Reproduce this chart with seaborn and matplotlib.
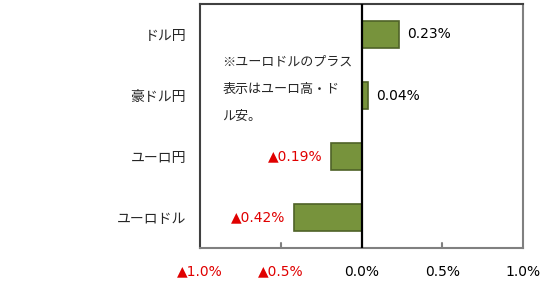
import matplotlib
matplotlib.use("Agg")
import matplotlib.pyplot as plt
import seaborn as sns
import pandas as pd

categories = ["ドル円", "豪ドル円", "ユーロ円", "ユーロドル"]
values = [0.23, 0.04, -0.19, -0.42]
value_labels = ["0.23%", "0.04%", "▲0.19%", "▲0.42%"]
xticks = [-1.0, -0.5, 0.0, 0.5, 1.0]
xtick_labels = ["▲1.0%", "▲0.5%", "0.0%", "0.5%", "1.0%"]
note = "※ユーロドルのプラス\n表示はユーロ高・ド\nル安。"

sns.set_style("white")
plt.rcParams['font.family'] = ['DejaVu Sans', 'Noto Sans CJK JP']
JP = ['Noto Sans CJK JP', 'DejaVu Sans']

df = pd.DataFrame({"cat": categories, "val": values})

fig = plt.figure(figsize=(5.5, 2.83), dpi=100)
ax = fig.add_axes([200/550, 1-248/283, 323/550, 244/283])
sns.barplot(data=df, x="val", y="cat", orient="h", color="#77933C",
            edgecolor="#4F6228", linewidth=1.2, width=0.43, saturation=1, ax=ax)

ax.set_xlim(-1.0, 1.0)
ax.set_ylim(3.5, -0.5)
ax.set_xlabel("")
ax.set_ylabel("")
ax.axvline(0, color="black", lw=1.6, zorder=3)

for yb in [0.5, 1.5, 2.5]:
    ax.plot([0, 0.012], [yb, yb], color="black", lw=1.6, zorder=3, solid_capstyle="butt")

ax.set_xticks(xticks)
ax.set_xticklabels(xtick_labels, fontsize=10)
for t, v in zip(ax.get_xticklabels(), xticks):
    t.set_color("#E00000" if v < 0 else "black")
ax.tick_params(axis="x", length=0, pad=12)
for xv in [-0.5, 0.5]:
    ax.plot([xv, xv], [3.5, 3.42], color="#808080", lw=1.5, zorder=3)

ax.set_yticks(range(len(categories)))
ax.set_yticklabels(categories, fontsize=10, family=JP)
ax.tick_params(axis="y", length=0, pad=10)

for s in ["left", "top"]:
    ax.spines[s].set_color("#404040")
    ax.spines[s].set_linewidth(1.5)
for s in ["right", "bottom"]:
    ax.spines[s].set_color("#808080")
    ax.spines[s].set_linewidth(1.5)

for i, (v, lab) in enumerate(zip(values, value_labels)):
    if v >= 0:
        ax.text(v + 0.05, i, lab, va="center", ha="left", fontsize=10, color="black")
    else:
        ax.text(v - 0.05, i, lab, va="center", ha="right", fontsize=10, color="#E00000")

ax.text(0.07, 0.79, note, transform=ax.transAxes, fontsize=9.4, va="top", ha="left",
        linespacing=2.45, family=JP)

fig.savefig("out.png", dpi=100, facecolor="white")
